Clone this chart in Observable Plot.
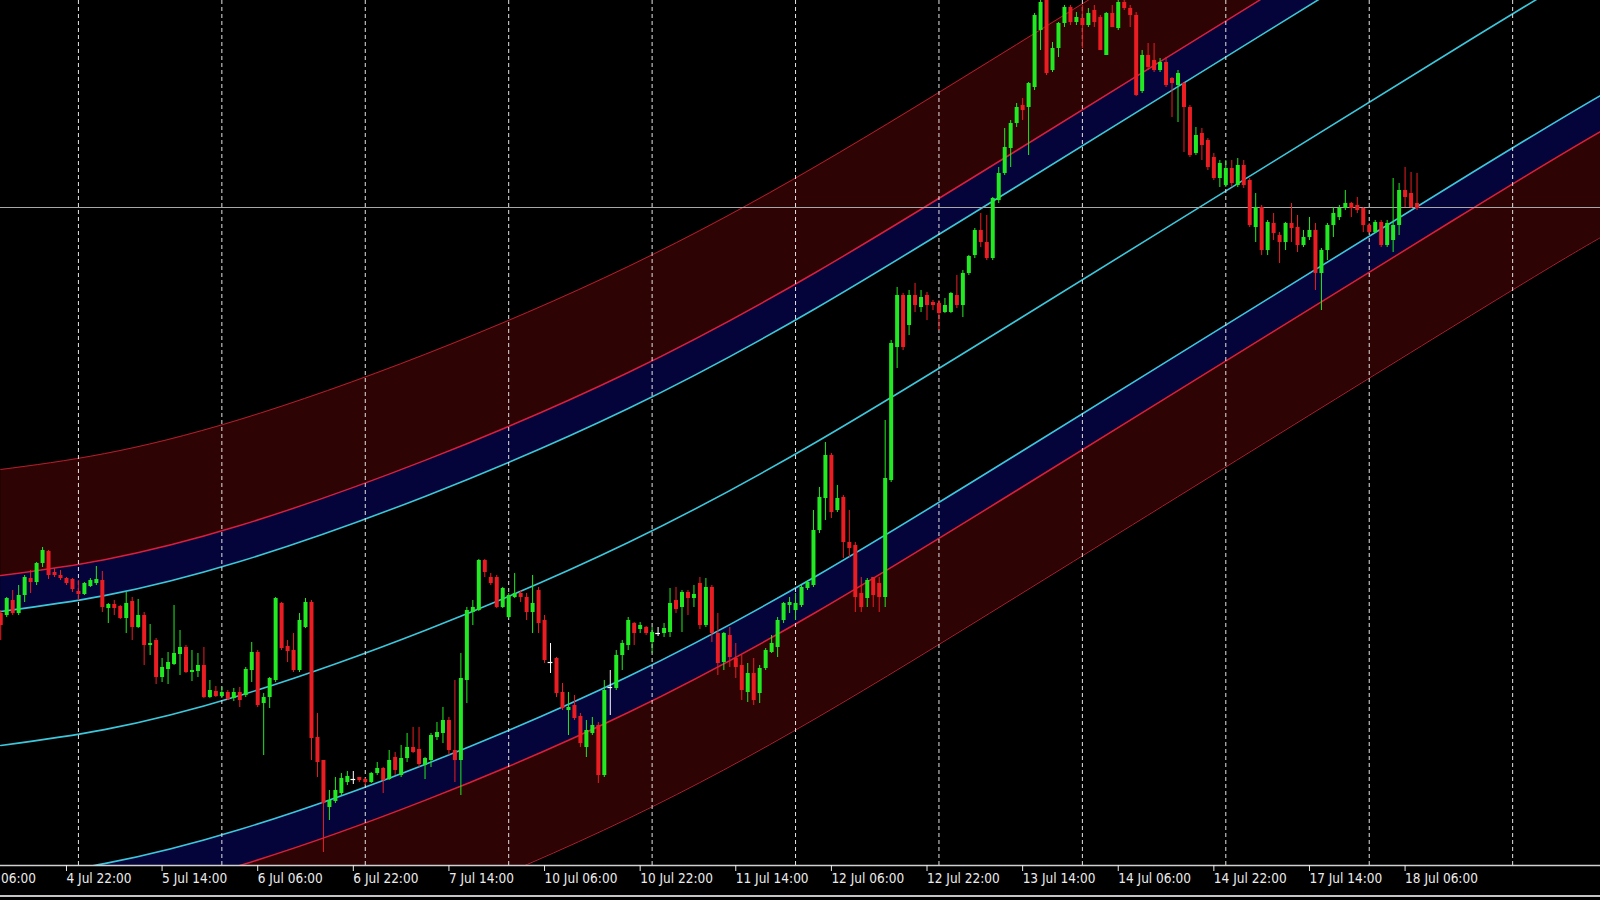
<!DOCTYPE html>
<html><head><meta charset="utf-8">
<script src="https://cdn.jsdelivr.net/npm/d3@7"></script>
<script src="https://cdn.jsdelivr.net/npm/@observablehq/plot@0.6"></script>
<style>
html,body{margin:0;padding:0;background:#000;overflow:hidden;}
#wrap{position:relative;width:1600px;height:900px;background:#000;}
#border{position:absolute;left:0;top:895px;width:1600px;height:2px;background:#c4c4c4;}
</style></head><body><div id="wrap"><div id="chart"></div><div id="border"></div></div>
<script>
// H1 bars, index 0 = 4 Jul 00:00 (24 bars per trading day, weekends skipped)
const firstBar = 11;
// prices in points (relative level)
const opens = [
287,285,300,287,305,322,318,337,349,328,
325,322,321,309,306,314,317,320,292,296,
294,282,299,273,285,255,260,223,231,236,
246,253,228,229,235,203,209,204,208,202,
208,205,230,248,197,203,220,297,254,250,
230,273,298,163,140,93,99,107,118,121,
123,121,118,127,132,121,143,125,142,153,
151,135,140,163,167,180,150,140,220,288,
290,340,323,323,293,283,303,307,303,288,
310,280,238,242,208,190,195,184,153,167,
175,125,213,212,245,255,277,271,273,258,
267,267,268,300,293,308,302,317,275,313,
267,238,265,242,235,208,227,207,232,248,
253,280,295,290,295,312,315,370,402,445,
390,403,358,355,307,302,323,317,303,420,
553,605,575,605,593,605,598,597,588,588,
605,595,627,645,670,658,642,700,727,752,
777,795,793,813,870,900,830,852,877,893,
878,882,875,890,883,845,887,872,898,892,
885,809,845,840,830,838,822,815,817,793,
747,767,760,743,722,715,732,715,735,720,
673,693,650,677,665,658,677,673,655,663,
670,627,650,675,683,692,697,695,692,675,
668,678,655,660,675,710,707,697];
const highs = [
290,303,310,315,325,330,338,353,350,332,
330,323,322,320,318,322,334,329,297,300,
295,308,303,301,288,276,262,242,248,295,
270,255,250,247,253,220,214,213,210,212,
213,233,258,250,207,223,303,298,260,267,
287,302,300,187,140,110,123,127,129,129,
123,122,128,138,133,150,148,155,167,173,
173,143,167,178,193,183,220,247,293,300,
341,341,327,325,313,307,327,310,307,325,
313,285,257,243,217,208,205,187,180,183,
178,220,230,250,260,283,278,278,274,273,
273,277,312,313,310,310,315,323,322,315,
287,268,273,257,245,237,242,235,252,265,
283,298,303,307,315,320,390,413,458,447,
415,405,390,358,323,322,323,323,480,560,
613,607,610,617,610,608,600,600,602,608,
625,630,645,672,687,685,703,733,772,780,
797,802,818,887,905,905,858,878,895,895,
888,895,892,895,885,888,895,900,902,895,
888,850,857,857,842,843,823,830,818,795,
773,772,762,747,740,740,740,742,740,722,
707,695,680,687,668,678,697,685,670,683,
677,652,677,693,695,710,698,703,693,677,
680,680,680,722,717,733,728,727];
const lows = [
260,283,285,285,298,307,315,333,321,323,
320,315,308,300,305,313,315,288,277,285,
281,267,260,272,235,245,216,218,216,235,
225,227,219,223,202,202,203,202,200,199,
193,203,218,193,145,192,218,250,238,228,
228,272,140,123,48,80,97,105,115,116,
118,115,117,125,107,120,125,123,138,147,
133,121,133,160,157,145,118,105,197,275,
289,323,315,292,292,282,302,298,280,267,
267,237,227,203,190,165,180,153,143,165,
117,123,185,210,230,250,255,267,265,247,
264,263,263,287,268,285,293,271,273,258,
225,230,233,222,200,198,195,197,230,247,
243,277,287,280,293,310,313,367,380,382,
388,342,343,288,288,293,293,288,293,418,
532,550,565,588,588,580,590,570,587,587,
592,583,625,642,653,640,640,697,725,733,
773,780,745,810,850,825,828,843,873,875,
875,852,873,873,850,845,873,870,890,873,
804,807,830,828,828,813,783,778,748,743,
745,740,730,720,713,713,713,713,712,673,
658,645,645,660,637,650,658,648,653,660,
610,590,640,663,680,690,683,687,668,667,
667,653,653,648,665,693,692,690];
const closes = [
275,302,287,305,323,318,337,350,325,325,
322,317,311,306,317,320,321,293,296,292,
282,297,273,285,255,257,223,233,238,247,
253,228,230,235,203,210,204,208,201,208,
200,231,248,195,203,222,302,252,249,230,
280,298,162,138,97,100,110,122,124,121,
120,118,127,132,120,140,130,142,153,148,
136,142,165,168,180,150,140,222,290,293,
340,328,317,293,312,305,307,303,288,297,
277,240,238,207,192,193,182,157,170,175,
125,210,213,245,257,280,267,275,267,268,
267,272,297,291,308,302,306,275,313,267,
237,267,243,233,210,227,200,232,250,257,
280,297,298,297,313,318,370,403,445,388,
402,358,352,303,293,320,305,303,422,557,
605,553,605,595,603,595,595,587,595,607,
595,627,644,670,658,642,702,727,753,777,
793,790,817,885,898,827,852,877,893,878,
883,875,887,878,850,887,873,898,892,885,
805,845,833,830,838,815,817,827,793,745,
765,755,733,722,737,732,717,735,715,675,
693,650,678,667,658,677,672,655,663,670,
627,650,675,687,692,697,692,690,675,668,
678,655,677,675,710,703,693,692];

const tickBars = [6,22,38,54,70,86,102,118,134,150,166,182,198,214,230,246];
const tickLabels = ["4 Jul 06:00","4 Jul 22:00","5 Jul 14:00","6 Jul 06:00","6 Jul 22:00","7 Jul 14:00",
  "10 Jul 06:00","10 Jul 22:00","11 Jul 14:00","12 Jul 06:00","12 Jul 22:00","13 Jul 14:00",
  "14 Jul 06:00","14 Jul 22:00","17 Jul 14:00","18 Jul 06:00"];
const dayBars = [24,48,72,96,120,144,168,192,216,240,264];

// regression channel: centre line read at these bars, plus band half-widths
const channelBars = [11, 51, 116, 181, 254, 279];
const channelMid  = [155, 205, 358, 580, 850, 940];
const bandInner = 134, bandRed = 170, bandOuter = 276;
const bidLevel = 693;

const GREEN = "#22ea22", RED = "#ea1e22", DOJI = "#ffffff";
const candles = opens.map((o, i) => ({
  k: firstBar + i, open: o, high: highs[i], low: lows[i], close: closes[i],
  col: closes[i] > o ? GREEN : closes[i] < o ? RED : DOJI
}));
const bodies = candles.filter(d => d.open !== d.close);
const dojis = candles.filter(d => d.open === d.close);
const chan = channelBars.map((k, i) => ({k, mid: channelMid[i]}));

const CYAN = "#3cc8dc", REDLINE = "#dc1e3a", OUTER = "#b31e2e";
const BLUEFILL = "#04043a", REDFILL = "#2e0303";
const lineOpts = (f, stroke, w) => ({x: "k", y: f, stroke, strokeWidth: w, curve: "natural", clip: true});

const chart = Plot.plot({
  width: 1600, height: 900,
  marginTop: 0, marginRight: 0, marginBottom: 35, marginLeft: 0,
  style: {background: "#000", color: "#fff", fontFamily: "'DejaVu Sans Condensed','DejaVu Sans',sans-serif", fontSize: "13.5px", overflow: "hidden"},
  x: {domain: [10.96, 278.7]},
  y: {domain: [35, 900], axis: null},
  color: {type: "identity"},
  marks: [
    Plot.areaY(chan, {x: "k", y1: d => d.mid + bandRed, y2: d => d.mid + bandOuter, fill: REDFILL, curve: "natural", clip: true}),
    Plot.areaY(chan, {x: "k", y1: d => d.mid - bandOuter, y2: d => d.mid - bandRed, fill: REDFILL, curve: "natural", clip: true}),
    Plot.areaY(chan, {x: "k", y1: d => d.mid + bandInner, y2: d => d.mid + bandRed, fill: BLUEFILL, curve: "natural", clip: true}),
    Plot.areaY(chan, {x: "k", y1: d => d.mid - bandRed, y2: d => d.mid - bandInner, fill: BLUEFILL, curve: "natural", clip: true}),
    Plot.line(chan, lineOpts(d => d.mid + bandOuter, OUTER, 1)),
    Plot.line(chan, lineOpts(d => d.mid - bandOuter, OUTER, 1)),
    Plot.line(chan, lineOpts(d => d.mid + bandRed, REDLINE, 1.5)),
    Plot.line(chan, lineOpts(d => d.mid - bandRed, REDLINE, 1.5)),
    Plot.line(chan, lineOpts(d => d.mid + bandInner, CYAN, 1.6)),
    Plot.line(chan, lineOpts(d => d.mid - bandInner, CYAN, 1.6)),
    Plot.line(chan, lineOpts("mid", CYAN, 1.6)),
    Plot.ruleX(dayBars, {stroke: "#e4e4e4", strokeWidth: 1, strokeDasharray: "4,3"}),
    Plot.ruleY([bidLevel], {stroke: "#a8a8a8", strokeWidth: 1}),
    Plot.ruleX(candles, {x: "k", y1: "low", y2: "high", stroke: "col", strokeWidth: 1, clip: true}),
    Plot.ruleX(bodies, {x: "k", y1: "open", y2: "close", stroke: "col", strokeWidth: 4, clip: true}),
    Plot.ruleY(dojis, {y: "open", x1: d => d.k - 0.4, x2: d => d.k + 0.4, stroke: "col", strokeWidth: 1.2}),
    Plot.frame({anchor: "bottom", stroke: "#d0d0d0", strokeWidth: 1.5}),
    Plot.axisX(tickBars, {tickFormat: d => tickLabels[tickBars.indexOf(d)], tickSize: 6, tickPadding: 2,
      textAnchor: "start", dx: 0, color: "#ececec", fontSize: 13.5, label: null})
  ]
});
document.getElementById("chart").appendChild(chart);
</script>
</body></html>
